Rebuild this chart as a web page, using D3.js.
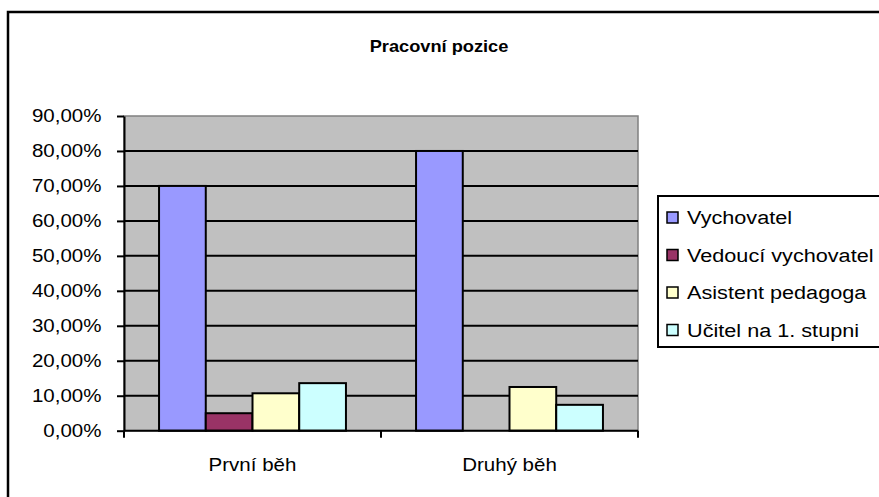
<!DOCTYPE html>
<html>
<head>
<meta charset="utf-8">
<script src="https://cdn.jsdelivr.net/npm/d3@7"></script>
<style>
  body { margin: 0; background: #fff; }
  text { font-family: "Liberation Sans", Arial, sans-serif; fill: #000; }
</style>
</head>
<body>
<svg width="879" height="497"></svg>
<script>
// data
const categories = ['První běh', 'Druhý běh'];
const series = ['Vychovatel', 'Vedoucí vychovatel', 'Asistent pedagoga', 'Učitel na 1. stupni'];
const colors = ['#9999FF', '#993366', '#FFFFCC', '#CCFFFF'];
const values = [
  [0.70, 0.05, 0.107, 0.136],  // První běh
  [0.80, 0.00, 0.125, 0.074]   // Druhý běh
];
const yTicks = [0, 0.1, 0.2, 0.3, 0.4, 0.5, 0.6, 0.7, 0.8, 0.9];

const sx = 1.14; // text in the original is a little wide

const plot = { left: 124, right: 638, top: 116, bottom: 430.7 };

const svg = d3.select('svg');

const cz = d3.formatLocale({ decimal: ',', thousands: ' ', grouping: [3], currency: ['', ' Kč'] });
const fmt = cz.format('.2%');

// outer chart frame (runs off right/bottom)
svg.append('rect')
  .attr('x', 8).attr('y', 12)
  .attr('width', 900).attr('height', 520)
  .attr('fill', '#fff')
  .attr('stroke', '#000')
  .attr('stroke-width', 2.5);

// title
svg.append('g')
  .attr('transform', 'translate(439,52)')
  .append('text')
    .attr('transform', `scale(${sx},1)`)
    .attr('text-anchor', 'middle')
    .attr('font-size', 16)
    .attr('font-weight', 'bold')
    .text('Pracovní pozice');

// scales
const x0 = d3.scaleBand()
  .domain(categories)
  .range([plot.left, plot.right]);

const x1 = d3.scaleBand()
  .domain(series)
  .range([0, x0.bandwidth()])
  .paddingInner(0)
  .paddingOuter(0.75);

const y = d3.scaleLinear()
  .domain([0, 0.9])
  .range([plot.bottom, plot.top]);

// plot area
svg.append('rect')
  .attr('x', plot.left).attr('y', plot.top)
  .attr('width', plot.right - plot.left)
  .attr('height', plot.bottom - plot.top)
  .attr('fill', '#C0C0C0')
  .attr('stroke', '#808080')
  .attr('stroke-width', 1.5);

// gridlines
svg.append('g')
  .selectAll('line')
  .data(yTicks.filter(d => d > 0 && d < 0.9))
  .enter()
  .append('line')
    .attr('x1', plot.left).attr('x2', plot.right)
    .attr('y1', d => y(d)).attr('y2', d => y(d))
    .attr('stroke', '#000')
    .attr('stroke-width', 2);

// bars
const groups = svg.append('g')
  .selectAll('g.cat')
  .data(categories)
  .enter()
  .append('g')
    .attr('class', 'cat')
    .attr('transform', d => `translate(${x0(d)},0)`);

groups.selectAll('rect')
  .data((d, i) => series.map((s, j) => ({ s, j, v: values[i][j] })))
  .enter()
  .filter(d => d.v > 0)
  .append('rect')
    .attr('x', d => x1(d.s))
    .attr('y', d => y(d.v))
    .attr('width', x1.bandwidth())
    .attr('height', d => y(0) - y(d.v))
    .attr('fill', d => colors[d.j])
    .attr('stroke', '#000')
    .attr('stroke-width', 2);

// y axis
const yAxis = svg.append('g')
  .attr('transform', `translate(${plot.left},0)`)
  .call(d3.axisLeft(y).tickValues(yTicks).tickFormat(fmt).tickSizeInner(7).tickSizeOuter(0));

yAxis.select('.domain').attr('stroke', '#000').attr('stroke-width', 2);
yAxis.selectAll('.tick line').attr('stroke', '#000').attr('stroke-width', 2);
yAxis.selectAll('.tick text')
  .attr('font-size', 18)
  .attr('font-family', '"Liberation Sans", Arial, sans-serif')
  .attr('x', -22.5 / sx)
  .attr('transform', `scale(${sx},1)`);

// x axis
const xAxis = svg.append('g')
  .attr('transform', `translate(0,${plot.bottom})`);

xAxis.append('line')
  .attr('x1', plot.left).attr('x2', plot.right)
  .attr('stroke', '#000').attr('stroke-width', 2);

xAxis.selectAll('line.tk')
  .data([plot.left, ...categories.map(c => x0(c) + x0.bandwidth())])
  .enter()
  .append('line')
    .attr('class', 'tk')
    .attr('x1', d => d).attr('x2', d => d)
    .attr('y1', 0).attr('y2', 7)
    .attr('stroke', '#000').attr('stroke-width', 2);

xAxis.selectAll('g.lbl')
  .data(categories)
  .enter()
  .append('g')
    .attr('class', 'lbl')
    .attr('transform', d => `translate(${x0(d) + x0.bandwidth() / 2},40)`)
  .append('text')
    .attr('transform', `scale(${sx},1)`)
    .attr('text-anchor', 'middle')
    .attr('font-size', 18)
    .text(d => d);

// legend
const legend = svg.append('g').attr('transform', 'translate(658,196)');

legend.append('rect')
  .attr('width', 260).attr('height', 151)
  .attr('fill', '#fff')
  .attr('stroke', '#000')
  .attr('stroke-width', 2);

const items = legend.selectAll('g.item')
  .data(series)
  .enter()
  .append('g')
    .attr('class', 'item')
    .attr('transform', (d, i) => `translate(0,${28 + i * 37.5})`);

items.append('rect')
  .attr('x', 9).attr('y', -12)
  .attr('width', 11).attr('height', 11)
  .attr('fill', (d, i) => colors[i])
  .attr('stroke', '#000')
  .attr('stroke-width', 1.5);

items.append('g')
  .attr('transform', 'translate(29,0)')
  .append('text')
    .attr('transform', `scale(${sx},1)`)
    .attr('font-size', 19)
    .text(d => d);
</script>
</body>
</html>
